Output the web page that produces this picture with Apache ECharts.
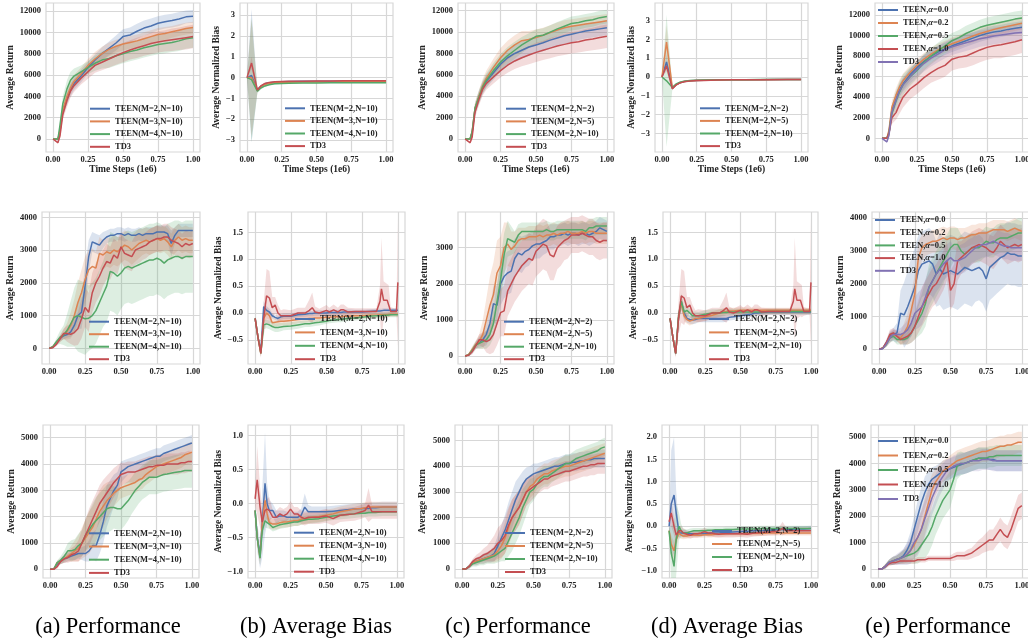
<!DOCTYPE html>
<html><head><meta charset="utf-8">
<script src="https://cdn.jsdelivr.net/npm/echarts@6/dist/echarts.min.js"></script>
<style>html,body{margin:0;padding:0;background:#fff;}#chart{width:1028px;height:640px;}</style>
</head><body><div id="chart"></div>
<script>
// ---------- x grids / ticks ----------
const xTicks = [0, 0.25, 0.5, 0.75, 1.0];
const xSmooth = [0, 0.02, 0.035, 0.05, 0.07, 0.1, 0.125, 0.15, 0.2, 0.25, 0.3, 0.35, 0.4, 0.45, 0.5, 0.55, 0.6, 0.65, 0.7, 0.75, 0.8, 0.85, 0.9, 0.95, 1.0];
const xBiasEarly = [0, 0.033, 0.075, 0.1, 0.13, 0.16, 0.2, 0.25, 0.3, 0.4, 0.5, 0.6, 0.7, 0.8, 0.9, 1.0];
const xNoisy = [0, 0.025, 0.05, 0.075, 0.1, 0.125, 0.15, 0.175, 0.2, 0.225, 0.25, 0.275, 0.3, 0.325, 0.35, 0.375, 0.4, 0.425, 0.45, 0.475, 0.5, 0.525, 0.55, 0.575, 0.6, 0.625, 0.65, 0.675, 0.7, 0.725, 0.75, 0.775, 0.8, 0.825, 0.85, 0.875, 0.9, 0.925, 0.95, 0.975, 1.0];
const xBiasRow2 = [0, 0.02, 0.04, 0.06, 0.08, 0.1, 0.12, 0.14, 0.16, 0.18, 0.2, 0.25, 0.3, 0.35, 0.38, 0.4, 0.42, 0.45, 0.5, 0.52, 0.55, 0.58, 0.6, 0.62, 0.65, 0.7, 0.75, 0.8, 0.85, 0.875, 0.885, 0.9, 0.925, 0.935, 0.95, 0.975, 0.99, 1.0];
const xBiasRow3 = [0, 0.015, 0.035, 0.05, 0.07, 0.085, 0.1, 0.125, 0.15, 0.175, 0.2, 0.225, 0.25, 0.275, 0.3, 0.325, 0.35, 0.375, 0.4, 0.45, 0.5, 0.55, 0.6, 0.65, 0.7, 0.75, 0.775, 0.8, 0.825, 0.85, 0.9, 0.95, 1.0];

// ---------- y ticks ----------
const yTicksPerf12k = [0, 2000, 4000, 6000, 8000, 10000, 12000];
const yTicksBias3 = [-3, -2, -1, 0, 1, 2, 3];
const yTicksPerf4k = [0, 1000, 2000, 3000, 4000];
const yTicksPerf3k = [0, 1000, 2000, 3000];
const yTicksBias15 = [-0.5, 0, 0.5, 1.0, 1.5];
const yTicksPerf5k = [0, 1000, 2000, 3000, 4000, 5000];
const yTicksBias10 = [-1.0, -0.5, 0, 0.5, 1.0];
const yTicksBias20 = [-1.0, -0.5, 0, 0.5, 1.0, 1.5, 2.0];

// ---------- labels ----------
const labelsM = ['TEEN(M=2,N=10)', 'TEEN(M=3,N=10)', 'TEEN(M=4,N=10)', 'TD3'];
const labelsN = ['TEEN(M=2,N=2)', 'TEEN(M=2,N=5)', 'TEEN(M=2,N=10)', 'TD3'];
const labelsA = ['TEEN,α=0.0', 'TEEN,α=0.2', 'TEEN,α=0.5', 'TEEN,α=1.0', 'TD3'];
const captions = ['(a) Performance', '(b) Average Bias', '(c) Performance', '(d) Average Bias', '(e) Performance'];

// ================= ROW 1 =================
const a1_m2 = [0, 0, -50, 700, 2600, 3800, 4600, 5200, 5900, 6700, 7400, 8000, 8500, 9000, 9600, 9750, 10100, 10400, 10600, 10850, 11000, 11100, 11250, 11450, 11500];
const a1_m3 = [0, 0, 0, 800, 2700, 4000, 4800, 5400, 6100, 6900, 7500, 8000, 8400, 8700, 8900, 9050, 9200, 9400, 9600, 9800, 9900, 10050, 10200, 10350, 10450];
const a1_m4 = [0, 0, 0, 1300, 3300, 4700, 5500, 5900, 6300, 6700, 7100, 7400, 7550, 7800, 8000, 8200, 8350, 8550, 8700, 8850, 8950, 9050, 9200, 9400, 9500];
const a1_td3 = [0, -200, -350, 300, 2300, 3600, 4500, 5000, 5700, 6300, 6900, 7200, 7500, 7800, 8100, 8350, 8550, 8750, 8950, 9100, 9200, 9300, 9400, 9500, 9600];
const a1_m2_sd = [0, 40, 80, 300, 500, 600, 600, 600, 600, 550, 550, 600, 650, 700, 700, 700, 700, 700, 700, 650, 650, 650, 650, 600, 600];
const a1_m3_sd = [0, 40, 80, 300, 500, 600, 600, 600, 600, 600, 650, 650, 650, 600, 600, 600, 600, 600, 600, 600, 600, 550, 550, 550, 550];
const a1_m4_sd = [0, 40, 80, 400, 700, 800, 800, 700, 600, 600, 700, 800, 900, 900, 900, 900, 900, 900, 900, 900, 900, 900, 950, 950, 950];
const a1_td3_sd = [0, 80, 120, 300, 500, 600, 600, 600, 600, 650, 700, 750, 800, 850, 900, 900, 950, 950, 1000, 1000, 1000, 1050, 1050, 1100, 1100];

const b1_m2 = [0, 0.1, -0.6, -0.42, -0.3, -0.25, -0.22, -0.2, -0.19, -0.18, -0.18, -0.17, -0.17, -0.17, -0.16, -0.16];
const b1_m3 = [0, 0.0, -0.62, -0.45, -0.33, -0.28, -0.25, -0.23, -0.22, -0.21, -0.21, -0.21, -0.2, -0.2, -0.2, -0.2];
const b1_m4 = [0, -0.1, -0.65, -0.5, -0.4, -0.34, -0.3, -0.28, -0.27, -0.26, -0.26, -0.25, -0.25, -0.25, -0.25, -0.25];
const b1_td3 = [0, 0.7, -0.6, -0.4, -0.28, -0.23, -0.2, -0.19, -0.18, -0.17, -0.16, -0.16, -0.15, -0.15, -0.15, -0.15];
const b1_m2_sd = [0, 3.2, 0.1, 0.06, 0.04, 0.03, 0.03, 0.03, 0.02, 0.02, 0.02, 0.02, 0.02, 0.02, 0.02, 0.02];
const b1_m3_sd = [0, 2.8, 0.1, 0.06, 0.04, 0.03, 0.03, 0.03, 0.02, 0.02, 0.02, 0.02, 0.02, 0.02, 0.02, 0.02];
const b1_m4_sd = [0, 3.0, 0.1, 0.06, 0.04, 0.03, 0.03, 0.03, 0.02, 0.02, 0.02, 0.02, 0.02, 0.02, 0.02, 0.02];
const b1_td3_sd = [0, 0.3, 0.1, 0.05, 0.04, 0.03, 0.03, 0.03, 0.02, 0.02, 0.02, 0.02, 0.02, 0.02, 0.02, 0.02];

const c1_n2 = [0, 0, 0, 600, 2800, 4000, 4800, 5400, 6200, 7000, 7600, 8000, 8300, 8600, 8800, 9000, 9250, 9450, 9650, 9800, 9950, 10100, 10200, 10300, 10400];
const c1_n5 = [0, 0, 0, 700, 2900, 4100, 5000, 5700, 6700, 7600, 8300, 8800, 9200, 9300, 9500, 9700, 9950, 10200, 10400, 10550, 10650, 10750, 10850, 10950, 11050];
const c1_n10 = [0, 0, 0, 700, 2900, 4000, 4900, 5500, 6400, 7200, 7800, 8300, 8800, 9200, 9600, 9700, 10000, 10300, 10550, 10800, 10900, 11050, 11150, 11350, 11450];
const c1_td3 = [0, -200, -350, 200, 2500, 3800, 4700, 5200, 5800, 6400, 6900, 7300, 7600, 7850, 8100, 8300, 8500, 8700, 8850, 9000, 9100, 9250, 9350, 9500, 9600];
const c1_n2_sd = [0, 40, 80, 300, 500, 600, 600, 600, 650, 700, 750, 800, 800, 800, 800, 800, 800, 750, 750, 750, 700, 700, 700, 700, 700];
const c1_n5_sd = [0, 40, 80, 300, 500, 600, 650, 700, 800, 900, 900, 900, 900, 800, 750, 700, 700, 700, 700, 650, 650, 650, 650, 650, 650];
const c1_n10_sd = [0, 40, 80, 300, 500, 600, 600, 650, 700, 750, 800, 800, 750, 700, 650, 650, 650, 650, 650, 650, 650, 650, 650, 650, 650];
const c1_td3_sd = [0, 80, 120, 300, 500, 600, 600, 600, 600, 650, 700, 750, 800, 850, 900, 900, 950, 950, 1000, 1000, 1000, 1050, 1050, 1100, 1100];

const d1_n2 = [0, 0.8, -0.6, -0.42, -0.3, -0.24, -0.2, -0.18, -0.17, -0.16, -0.15, -0.14, -0.14, -0.13, -0.13, -0.13];
const d1_n5 = [0, 1.85, -0.6, -0.42, -0.3, -0.24, -0.2, -0.18, -0.17, -0.16, -0.15, -0.14, -0.14, -0.13, -0.13, -0.13];
const d1_n10 = [0, -0.2, -0.55, -0.38, -0.27, -0.22, -0.19, -0.17, -0.16, -0.15, -0.14, -0.14, -0.13, -0.13, -0.13, -0.13];
const d1_td3 = [0, 0.6, -0.62, -0.43, -0.31, -0.25, -0.21, -0.19, -0.18, -0.16, -0.15, -0.15, -0.14, -0.14, -0.13, -0.13];
const d1_n2_sd = [0, 0.4, 0.08, 0.05, 0.04, 0.03, 0.03, 0.03, 0.02, 0.02, 0.02, 0.02, 0.02, 0.02, 0.02, 0.02];
const d1_n5_sd = [0, 0.9, 0.08, 0.05, 0.04, 0.03, 0.03, 0.03, 0.02, 0.02, 0.02, 0.02, 0.02, 0.02, 0.02, 0.02];
const d1_n10_sd = [0, 3.5, 0.1, 0.06, 0.04, 0.03, 0.03, 0.03, 0.02, 0.02, 0.02, 0.02, 0.02, 0.02, 0.02, 0.02];
const d1_td3_sd = [0, 0.3, 0.08, 0.05, 0.04, 0.03, 0.03, 0.03, 0.02, 0.02, 0.02, 0.02, 0.02, 0.02, 0.02, 0.02];

const e1_a0 = [0, 0, 0, 600, 2700, 3800, 4700, 5300, 6200, 6900, 7500, 8000, 8400, 8700, 9000, 9250, 9500, 9750, 10000, 10200, 10350, 10450, 10600, 10700, 10800];
const e1_a2 = [0, 0, 0, 800, 3000, 4200, 5000, 5600, 6400, 7100, 7700, 8200, 8600, 8900, 9200, 9450, 9700, 9950, 10200, 10400, 10600, 10750, 10900, 11050, 11200];
const e1_a5 = [0, 0, 0, 500, 2400, 3600, 4500, 5200, 6000, 6600, 7400, 8000, 8500, 9000, 9500, 9800, 10200, 10500, 10800, 11000, 11150, 11300, 11450, 11600, 11700];
const e1_a10 = [0, 0, 0, 500, 2000, 2500, 3300, 4000, 4800, 5300, 5900, 6400, 6800, 7100, 7700, 7900, 8000, 8300, 8600, 8850, 9000, 9100, 9250, 9400, 9600];
const e1_td3 = [0, -200, -350, 300, 2500, 3700, 4600, 5200, 6000, 6700, 7300, 7800, 8200, 8600, 8900, 9100, 9300, 9500, 9700, 9800, 9950, 10050, 10150, 10250, 10300];
const e1_a0_sd = [0, 40, 80, 300, 500, 600, 600, 600, 600, 600, 600, 600, 600, 600, 600, 600, 600, 600, 600, 600, 600, 600, 600, 600, 600];
const e1_a2_sd = [0, 40, 80, 300, 600, 700, 700, 700, 650, 600, 600, 600, 600, 600, 600, 600, 600, 600, 600, 600, 600, 600, 600, 600, 600];
const e1_a5_sd = [0, 40, 80, 400, 800, 1000, 1000, 1000, 900, 800, 800, 800, 800, 800, 750, 750, 750, 750, 750, 750, 750, 750, 750, 750, 750];
const e1_a10_sd = [0, 40, 80, 300, 600, 700, 900, 1000, 1000, 1000, 1000, 1000, 1100, 1100, 1100, 1100, 1100, 1200, 1200, 1200, 1200, 1300, 1300, 1300, 1300];
const e1_td3_sd = [0, 80, 120, 300, 500, 600, 600, 650, 700, 750, 800, 800, 800, 800, 800, 800, 800, 800, 800, 800, 800, 800, 800, 800, 800];

// ================= ROW 2 =================
const a2_m2 = [0, 30, 150, 300, 380, 420, 500, 700, 1000, 1100, 1900, 2800, 3250, 3200, 3150, 3300, 3400, 3450, 3450, 3500, 3500, 3450, 3500, 3450, 3450, 3500, 3450, 3500, 3500, 3500, 3550, 3550, 3550, 3500, 3200, 3450, 3600, 3600, 3600, 3600, 3600];
const a2_m3 = [0, 50, 180, 300, 420, 520, 700, 1000, 1400, 1700, 2100, 2400, 2500, 2450, 2900, 2850, 2950, 2900, 3000, 2950, 3050, 3150, 3100, 3000, 3100, 3200, 3250, 3300, 3250, 3300, 3350, 3300, 3350, 3250, 3100, 3300, 3400, 3300, 3350, 3300, 3300];
const a2_m4 = [0, 50, 200, 330, 400, 550, 750, 950, 1000, 950, 900, 920, 1000, 1150, 1400, 1650, 1900, 2350, 2300, 2200, 2300, 2450, 2500, 2450, 2500, 2550, 2600, 2650, 2700, 2700, 2750, 2700, 2600, 2700, 2750, 2800, 2800, 2750, 2800, 2800, 2800];
const a2_td3 = [0, 20, 120, 280, 450, 450, 430, 480, 600, 900, 1250, 1100, 1700, 2000, 2200, 2450, 2650, 2600, 2850, 2750, 3100, 2900, 2850, 2800, 3000, 3050, 3100, 3150, 3250, 3300, 3350, 3350, 3400, 3400, 3300, 3250, 3200, 3100, 3200, 3150, 3200];
const a2_m2_sd = [0, 20, 50, 80, 100, 100, 150, 250, 400, 500, 600, 500, 300, 300, 300, 250, 200, 200, 200, 200, 200, 200, 200, 200, 200, 200, 200, 200, 200, 200, 200, 200, 200, 250, 400, 250, 200, 200, 200, 200, 200];
const a2_m3_sd = [0, 30, 60, 100, 150, 250, 400, 500, 600, 700, 700, 600, 550, 500, 500, 450, 450, 450, 450, 450, 450, 450, 450, 450, 450, 450, 400, 400, 400, 400, 400, 400, 400, 400, 400, 400, 400, 400, 400, 400, 400];
const a2_m4_sd = [0, 30, 100, 200, 300, 500, 700, 900, 1100, 1100, 1100, 1000, 1000, 1000, 1000, 1000, 1100, 1200, 1200, 1200, 1100, 1100, 1100, 1100, 1100, 1100, 1100, 1100, 1100, 1100, 1100, 1100, 1100, 1100, 1100, 1100, 1100, 1100, 1100, 1100, 1100];
const a2_td3_sd = [0, 20, 60, 100, 150, 250, 300, 400, 500, 600, 600, 600, 600, 600, 600, 550, 550, 500, 500, 500, 450, 450, 450, 450, 450, 450, 400, 400, 400, 400, 400, 400, 400, 400, 400, 400, 400, 400, 400, 400, 400];

const b2_m2 = [-0.1, -0.45, -0.7, 0.12, 0.05, 0.02, -0.05, -0.08, -0.1, -0.07, -0.06, -0.06, -0.03, -0.02, -0.01, -0.01, 0.0, 0.0, 0.0, 0.01, 0.01, 0.01, 0.01, 0.02, 0.02, 0.02, 0.02, 0.03, 0.04, 0.04, 0.04, 0.05, 0.05, 0.05, 0.05, 0.05, 0.05, 0.05];
const b2_m3 = [-0.1, -0.45, -0.75, -0.1, 0.0, -0.05, -0.18, -0.17, -0.16, -0.15, -0.15, -0.14, -0.12, -0.11, -0.1, -0.1, -0.09, -0.09, -0.08, -0.08, -0.07, -0.07, -0.07, -0.06, -0.06, -0.05, -0.05, -0.04, -0.04, -0.03, -0.03, -0.03, -0.03, -0.02, -0.02, -0.02, -0.02, -0.02];
const b2_m4 = [-0.1, -0.45, -0.75, -0.22, -0.2, -0.22, -0.25, -0.27, -0.27, -0.26, -0.25, -0.24, -0.22, -0.2, -0.2, -0.19, -0.18, -0.17, -0.15, -0.14, -0.13, -0.12, -0.12, -0.11, -0.1, -0.09, -0.08, -0.06, -0.05, -0.05, -0.04, -0.04, -0.04, -0.03, -0.03, -0.03, -0.03, -0.03];
const td3BiasRow2 = [-0.1, -0.45, -0.75, -0.1, 0.32, 0.28, 0.1, 0.15, 0.0, -0.05, -0.05, -0.05, 0.0, 0.0, 0.05, 0.1, 0.02, 0.0, 0.05, 0.02, 0.06, 0.02, 0.06, 0.06, 0.02, 0.03, 0.03, 0.03, 0.03, 0.22, 0.45, 0.24, 0.24, 0.22, 0.03, 0.03, 0.03, 0.57];
const b2_m2_sd = [0.03, 0.05, 0.05, 0.1, 0.08, 0.06, 0.05, 0.05, 0.05, 0.05, 0.05, 0.05, 0.05, 0.05, 0.05, 0.05, 0.05, 0.05, 0.05, 0.05, 0.05, 0.05, 0.05, 0.05, 0.05, 0.04, 0.04, 0.04, 0.04, 0.04, 0.04, 0.04, 0.04, 0.04, 0.04, 0.04, 0.04, 0.04];
const b2_m3_sd = [0.03, 0.05, 0.05, 0.1, 0.1, 0.08, 0.08, 0.08, 0.08, 0.08, 0.08, 0.08, 0.07, 0.07, 0.07, 0.07, 0.07, 0.07, 0.06, 0.06, 0.06, 0.06, 0.06, 0.06, 0.06, 0.05, 0.05, 0.05, 0.05, 0.05, 0.05, 0.05, 0.05, 0.05, 0.05, 0.05, 0.05, 0.05];
const b2_m4_sd = [0.03, 0.05, 0.05, 0.08, 0.08, 0.08, 0.08, 0.08, 0.08, 0.08, 0.07, 0.07, 0.07, 0.06, 0.06, 0.06, 0.06, 0.06, 0.05, 0.05, 0.05, 0.05, 0.05, 0.05, 0.05, 0.05, 0.05, 0.05, 0.05, 0.05, 0.05, 0.05, 0.05, 0.05, 0.05, 0.05, 0.05, 0.05];
const td3BiasRow2_sd = [0.03, 0.1, 0.08, 0.3, 0.5, 0.5, 0.2, 0.15, 0.15, 0.1, 0.12, 0.1, 0.1, 0.1, 0.2, 0.28, 0.1, 0.08, 0.1, 0.08, 0.1, 0.08, 0.1, 0.1, 0.08, 0.06, 0.06, 0.06, 0.06, 0.3, 0.95, 0.35, 0.3, 0.3, 0.08, 0.06, 0.06, 1.2];

const c2_n2 = [0, 30, 150, 300, 380, 450, 600, 900, 1450, 1400, 2000, 2200, 2300, 2350, 2700, 2850, 2800, 2900, 2950, 3050, 3100, 3100, 3150, 3200, 3300, 3300, 3350, 3350, 3400, 3350, 3400, 3400, 3350, 3400, 3400, 3350, 3400, 3450, 3550, 3500, 3450];
const c2_n5 = [0, 40, 180, 320, 400, 600, 1000, 1400, 1700, 2300, 2500, 3000, 3100, 2950, 3050, 3200, 3250, 3250, 3300, 3300, 3300, 3350, 3300, 3350, 3350, 3400, 3350, 3400, 3400, 3450, 3400, 3400, 3400, 3450, 3400, 3450, 3450, 3400, 3400, 3400, 3400];
const c2_n10 = [0, 30, 150, 300, 350, 400, 450, 600, 900, 1500, 2100, 2800, 3250, 3200, 3150, 3350, 3450, 3450, 3450, 3450, 3450, 3450, 3450, 3500, 3450, 3450, 3500, 3500, 3500, 3500, 3500, 3500, 3500, 3500, 3450, 3550, 3550, 3600, 3600, 3600, 3600];
const c2_td3 = [0, 20, 120, 280, 450, 450, 400, 450, 600, 900, 1200, 1250, 1800, 2000, 2200, 2350, 2500, 2600, 2700, 2650, 2900, 3000, 3100, 3050, 2800, 2750, 3000, 3100, 3200, 3250, 3350, 3350, 3350, 3400, 3350, 3300, 3300, 3200, 3150, 3200, 3200];
const c2_n2_sd = [0, 30, 80, 100, 150, 200, 300, 400, 500, 550, 600, 600, 600, 600, 550, 500, 500, 450, 450, 400, 400, 400, 350, 350, 350, 350, 300, 300, 300, 300, 300, 300, 300, 300, 300, 300, 300, 300, 300, 300, 300];
const c2_n5_sd = [0, 30, 80, 100, 200, 400, 600, 800, 900, 900, 800, 700, 600, 500, 400, 350, 300, 300, 300, 300, 300, 300, 300, 300, 300, 300, 300, 300, 300, 300, 300, 300, 300, 300, 300, 300, 300, 300, 300, 300, 300];
const c2_n10_sd = [0, 30, 80, 100, 150, 200, 250, 300, 400, 500, 600, 600, 500, 400, 300, 300, 250, 250, 250, 250, 250, 250, 250, 250, 250, 250, 250, 250, 250, 250, 250, 250, 250, 250, 250, 250, 250, 250, 250, 250, 250];
const c2_td3_sd = [0, 30, 80, 100, 150, 200, 300, 400, 500, 600, 650, 700, 700, 700, 700, 700, 700, 700, 700, 700, 700, 700, 700, 700, 700, 650, 600, 600, 550, 550, 500, 500, 500, 500, 500, 500, 500, 500, 500, 500, 500];

const d2_n2 = [-0.1, -0.45, -0.75, -0.1, 0.2, 0.0, -0.1, -0.12, -0.13, -0.12, -0.1, -0.1, -0.1, -0.1, -0.1, -0.1, -0.08, -0.07, -0.05, -0.04, -0.03, -0.02, 0.0, 0.0, 0.01, 0.02, 0.02, 0.02, 0.02, 0.02, 0.02, 0.02, 0.02, 0.02, 0.02, 0.02, 0.02, 0.02];
const d2_n5 = [-0.1, -0.45, -0.75, -0.1, 0.2, -0.05, -0.12, -0.15, -0.13, -0.1, -0.1, -0.07, -0.04, 0.0, 0.02, 0.03, 0.04, 0.04, 0.05, 0.05, 0.05, 0.05, 0.05, 0.05, 0.05, 0.05, 0.05, 0.05, 0.05, 0.05, 0.05, 0.05, 0.05, 0.05, 0.05, 0.05, 0.05, 0.05];
const d2_n10 = [-0.1, -0.45, -0.75, -0.05, 0.22, 0.02, 0.05, 0.0, -0.05, -0.05, -0.05, -0.02, 0.0, 0.0, 0.01, 0.01, 0.02, 0.02, 0.02, 0.02, 0.02, 0.02, 0.02, 0.02, 0.02, 0.03, 0.03, 0.03, 0.03, 0.03, 0.03, 0.03, 0.03, 0.03, 0.03, 0.03, 0.03, 0.03];
const d2_n2_sd = [0.03, 0.05, 0.05, 0.1, 0.12, 0.1, 0.08, 0.08, 0.08, 0.08, 0.07, 0.07, 0.07, 0.07, 0.07, 0.06, 0.06, 0.06, 0.06, 0.06, 0.05, 0.05, 0.05, 0.05, 0.05, 0.05, 0.05, 0.05, 0.05, 0.05, 0.05, 0.05, 0.05, 0.05, 0.05, 0.05, 0.05, 0.05];
const d2_n5_sd = [0.03, 0.05, 0.05, 0.1, 0.12, 0.1, 0.08, 0.08, 0.08, 0.08, 0.07, 0.07, 0.07, 0.07, 0.07, 0.06, 0.06, 0.06, 0.06, 0.06, 0.05, 0.05, 0.05, 0.05, 0.05, 0.05, 0.05, 0.05, 0.05, 0.05, 0.05, 0.05, 0.05, 0.05, 0.05, 0.05, 0.05, 0.05];
const d2_n10_sd = [0.03, 0.05, 0.05, 0.1, 0.15, 0.1, 0.1, 0.08, 0.08, 0.08, 0.07, 0.07, 0.07, 0.07, 0.07, 0.06, 0.06, 0.06, 0.06, 0.06, 0.05, 0.05, 0.05, 0.05, 0.05, 0.05, 0.05, 0.05, 0.05, 0.05, 0.05, 0.05, 0.05, 0.05, 0.05, 0.05, 0.05, 0.05];

const e2_a0 = [0, 30, 200, 400, 450, 500, 1100, 1050, 1300, 1600, 1900, 2400, 2600, 2650, 2700, 2600, 2300, 2450, 2300, 2350, 2400, 2350, 2300, 2400, 2500, 2450, 2400, 2450, 2500, 2400, 2150, 2500, 2600, 2700, 2800, 2850, 2950, 2900, 2900, 2850, 2850];
const e2_a2 = [0, 40, 150, 350, 450, 400, 350, 500, 700, 1200, 1700, 2800, 3100, 3200, 3250, 3300, 3300, 3350, 3400, 3350, 3400, 3400, 3350, 3400, 3400, 3450, 3500, 3500, 3550, 3550, 3550, 3600, 3650, 3650, 3650, 3650, 3600, 3650, 3700, 3650, 3600];
const e2_a5 = [0, 30, 150, 350, 400, 300, 300, 300, 350, 500, 700, 900, 1100, 1400, 1900, 2100, 2300, 2500, 2700, 2900, 3100, 3200, 3200, 3000, 2900, 3000, 3100, 3100, 3100, 3200, 3300, 3250, 3250, 3350, 3400, 3400, 3400, 3450, 3500, 3550, 3550];
const e2_a10 = [0, 30, 200, 450, 500, 400, 300, 350, 400, 500, 700, 1000, 1300, 1500, 1700, 1900, 2000, 2200, 2400, 2700, 1800, 2000, 2700, 2800, 2900, 3000, 3100, 3150, 3200, 3150, 3100, 3000, 2950, 3100, 3300, 3200, 3100, 3150, 3200, 3150, 3200];
const e2_td3 = [0, 20, 150, 350, 450, 450, 450, 500, 600, 800, 1100, 1200, 1300, 1600, 1900, 2100, 2300, 2450, 2600, 2700, 2800, 2700, 2700, 2750, 2800, 2900, 3000, 3100, 3150, 3200, 3200, 3250, 3300, 3250, 3200, 3150, 3150, 3100, 3100, 3100, 3100];
const e2_a0_sd = [0, 30, 80, 150, 200, 300, 700, 1000, 1100, 1200, 1200, 1100, 1000, 1000, 1000, 1000, 1000, 1100, 1100, 1100, 1100, 1100, 1100, 1100, 1100, 1100, 1100, 1000, 1000, 1000, 1000, 1000, 1000, 1000, 1000, 950, 950, 950, 950, 950, 950];
const e2_a2_sd = [0, 30, 80, 150, 150, 150, 200, 300, 400, 500, 600, 500, 400, 350, 350, 350, 350, 350, 350, 350, 350, 350, 350, 300, 300, 300, 300, 300, 300, 300, 300, 300, 300, 300, 300, 300, 300, 300, 300, 300, 300];
const e2_a5_sd = [0, 30, 80, 150, 150, 150, 150, 150, 200, 300, 400, 500, 600, 700, 700, 700, 700, 700, 700, 600, 600, 500, 500, 500, 500, 500, 450, 450, 450, 450, 450, 450, 450, 450, 450, 450, 450, 450, 450, 450, 450];
const e2_a10_sd = [0, 30, 80, 150, 150, 150, 150, 200, 250, 300, 400, 500, 600, 600, 600, 600, 600, 600, 600, 600, 600, 600, 600, 500, 500, 500, 500, 500, 500, 500, 500, 500, 500, 500, 500, 500, 500, 500, 500, 500, 500];
const e2_td3_sd = [0, 30, 80, 150, 150, 150, 200, 250, 300, 400, 500, 550, 550, 550, 550, 550, 550, 550, 500, 500, 500, 450, 450, 450, 450, 450, 400, 400, 400, 400, 400, 400, 400, 400, 400, 400, 400, 400, 400, 400, 400];

// ================= ROW 3 =================
const a3_m2 = [0, 0, 200, 300, 400, 450, 500, 550, 600, 600, 600, 700, 900, 900, 1300, 1800, 2400, 2700, 3000, 3200, 3700, 3800, 3900, 3950, 4000, 4050, 4100, 4150, 4200, 4250, 4300, 4300, 4400, 4450, 4500, 4550, 4600, 4650, 4700, 4750, 4800];
const a3_m3 = [0, 0, 250, 300, 400, 500, 600, 700, 800, 1000, 1200, 1400, 1600, 1900, 2200, 2400, 2600, 2750, 2900, 3000, 3100, 3150, 3200, 3250, 3300, 3400, 3450, 3600, 3700, 3800, 3900, 3950, 4000, 4050, 4100, 4150, 4200, 4250, 4350, 4400, 4450];
const a3_m4 = [0, 0, 250, 350, 500, 700, 700, 750, 900, 1000, 1300, 1500, 1700, 1850, 2000, 2150, 2300, 2350, 2350, 2300, 2300, 2450, 2600, 2800, 3000, 3150, 3300, 3400, 3500, 3500, 3500, 3550, 3600, 3620, 3650, 3680, 3700, 3720, 3750, 3750, 3750];
const a3_td3 = [0, 0, 100, 300, 400, 450, 550, 600, 700, 1000, 1300, 1600, 1900, 2200, 2500, 2700, 2900, 3100, 3300, 3450, 3600, 3650, 3700, 3700, 3700, 3750, 3800, 3850, 3900, 3900, 3950, 3950, 3950, 4000, 4000, 4000, 4000, 4050, 4050, 4100, 4100];
const a3_m2_sd = [0, 30, 80, 100, 150, 150, 150, 200, 200, 250, 300, 400, 500, 600, 700, 800, 800, 700, 600, 500, 400, 350, 300, 300, 300, 300, 300, 300, 300, 300, 300, 300, 300, 300, 300, 300, 300, 300, 300, 300, 300];
const a3_m3_sd = [0, 30, 80, 100, 150, 200, 300, 400, 500, 600, 700, 800, 800, 800, 800, 800, 700, 600, 500, 450, 400, 400, 400, 400, 400, 400, 400, 400, 400, 400, 400, 400, 400, 400, 400, 400, 400, 400, 400, 400, 400];
const a3_m4_sd = [0, 30, 80, 150, 200, 300, 400, 400, 450, 500, 600, 700, 800, 900, 900, 900, 900, 900, 800, 800, 800, 800, 750, 700, 700, 650, 650, 650, 650, 650, 650, 650, 650, 650, 650, 650, 650, 650, 650, 650, 650];
const a3_td3_sd = [0, 30, 80, 100, 150, 200, 250, 300, 400, 500, 600, 700, 700, 700, 700, 700, 650, 600, 550, 500, 450, 400, 400, 400, 400, 400, 400, 400, 400, 400, 400, 400, 400, 400, 400, 400, 400, 400, 400, 400, 400];

const b3_m2 = [-0.1, -0.5, -0.75, -0.3, 0.3, 0.0, -0.1, -0.1, -0.2, -0.18, -0.18, -0.2, -0.2, -0.2, -0.2, -0.17, -0.05, -0.12, -0.12, -0.12, -0.12, -0.11, -0.1, -0.09, -0.08, -0.07, -0.07, -0.07, -0.06, -0.06, -0.05, -0.05, -0.05];
const b3_m3 = [-0.1, -0.5, -0.8, -0.3, 0.05, -0.15, -0.28, -0.3, -0.3, -0.28, -0.27, -0.27, -0.26, -0.25, -0.25, -0.23, -0.22, -0.21, -0.2, -0.19, -0.17, -0.15, -0.12, -0.1, -0.08, -0.07, -0.06, -0.05, -0.05, -0.05, -0.05, -0.05, -0.05];
const b3_m4 = [-0.1, -0.5, -0.8, -0.4, -0.25, -0.28, -0.3, -0.35, -0.33, -0.31, -0.3, -0.29, -0.28, -0.27, -0.27, -0.25, -0.24, -0.23, -0.23, -0.22, -0.2, -0.18, -0.17, -0.16, -0.15, -0.14, -0.14, -0.13, -0.13, -0.13, -0.12, -0.12, -0.12];
const b3_td3 = [0.07, 0.35, -0.05, -0.27, -0.1, -0.08, -0.1, -0.2, -0.2, -0.15, -0.18, -0.15, -0.08, -0.15, -0.15, -0.2, -0.22, -0.2, -0.2, -0.2, -0.18, -0.22, -0.17, -0.16, -0.15, -0.12, -0.1, -0.02, -0.12, -0.12, -0.12, -0.12, -0.12];
const b3_m2_sd = [0.05, 0.2, 0.2, 0.5, 0.75, 0.3, 0.15, 0.1, 0.1, 0.08, 0.08, 0.08, 0.08, 0.08, 0.08, 0.1, 0.2, 0.1, 0.08, 0.08, 0.08, 0.08, 0.08, 0.08, 0.08, 0.08, 0.08, 0.08, 0.08, 0.08, 0.08, 0.08, 0.08];
const b3_m3_sd = [0.05, 0.1, 0.1, 0.15, 0.15, 0.1, 0.08, 0.08, 0.08, 0.08, 0.08, 0.08, 0.08, 0.08, 0.08, 0.08, 0.08, 0.08, 0.08, 0.08, 0.08, 0.08, 0.08, 0.08, 0.08, 0.08, 0.08, 0.08, 0.08, 0.08, 0.08, 0.08, 0.08];
const b3_m4_sd = [0.05, 0.1, 0.1, 0.12, 0.1, 0.08, 0.07, 0.06, 0.06, 0.06, 0.06, 0.06, 0.06, 0.06, 0.06, 0.06, 0.06, 0.06, 0.06, 0.06, 0.06, 0.06, 0.06, 0.06, 0.06, 0.06, 0.06, 0.06, 0.06, 0.06, 0.06, 0.06, 0.06];
const b3_td3_sd = [0.1, 0.5, 0.3, 0.2, 0.15, 0.15, 0.2, 0.1, 0.1, 0.1, 0.1, 0.1, 0.12, 0.1, 0.1, 0.1, 0.1, 0.1, 0.1, 0.1, 0.1, 0.1, 0.1, 0.1, 0.1, 0.1, 0.1, 0.25, 0.1, 0.1, 0.1, 0.1, 0.1];

const c3_n2 = [0, 0, 100, 250, 300, 350, 400, 450, 500, 600, 900, 1200, 1500, 1900, 2300, 2700, 3000, 3300, 3500, 3600, 3700, 3750, 3800, 3850, 3900, 3950, 4000, 4000, 4050, 4100, 4100, 4150, 4150, 4200, 4200, 4250, 4250, 4300, 4300, 4300, 4300];
const c3_n5 = [0, 0, 100, 250, 300, 350, 400, 450, 500, 550, 700, 900, 1200, 1600, 2000, 2200, 2400, 2700, 3000, 3200, 3300, 3500, 3600, 3700, 3700, 3800, 3850, 3900, 3950, 4000, 4000, 4050, 4100, 4150, 4200, 4250, 4300, 4350, 4400, 4450, 4500];
const c3_n10 = [0, 0, 100, 200, 250, 300, 350, 400, 450, 500, 600, 700, 800, 1100, 1400, 1700, 2000, 2400, 2700, 3000, 3100, 3300, 3500, 3600, 3600, 3700, 3800, 3900, 4000, 4100, 4100, 4200, 4300, 4350, 4400, 4450, 4500, 4550, 4600, 4700, 4750];
const c3_td3 = [0, 0, 100, 300, 400, 450, 550, 600, 700, 800, 1000, 1100, 1300, 1700, 2000, 2200, 2400, 2700, 3000, 3100, 3200, 3300, 3400, 3500, 3500, 3600, 3650, 3700, 3750, 3800, 3800, 3850, 3900, 3950, 4000, 4000, 4050, 4050, 4100, 4100, 4100];
const c3_n2_sd = [0, 30, 80, 100, 150, 150, 200, 200, 250, 300, 400, 500, 600, 700, 700, 700, 600, 500, 450, 400, 400, 350, 350, 350, 350, 350, 350, 350, 350, 350, 350, 350, 350, 350, 350, 350, 350, 350, 350, 350, 350];
const c3_n5_sd = [0, 30, 80, 100, 150, 150, 200, 200, 250, 300, 400, 500, 600, 700, 700, 700, 700, 600, 500, 450, 400, 400, 400, 400, 400, 400, 400, 400, 400, 400, 400, 400, 400, 400, 400, 400, 400, 400, 400, 400, 400];
const c3_n10_sd = [0, 30, 80, 100, 150, 150, 200, 200, 250, 300, 350, 400, 500, 600, 700, 700, 700, 700, 600, 500, 450, 400, 400, 400, 400, 350, 350, 350, 350, 350, 350, 350, 350, 350, 350, 350, 350, 350, 350, 350, 350];
const c3_td3_sd = [0, 30, 80, 100, 150, 200, 250, 300, 400, 500, 600, 650, 700, 700, 700, 700, 650, 600, 550, 500, 450, 400, 400, 400, 400, 400, 400, 400, 400, 400, 400, 400, 400, 400, 400, 400, 400, 400, 400, 400, 400];

const d3_n2 = [0.0, 0.5, 0.7, 0.3, -0.15, -0.15, -0.15, -0.15, -0.17, -0.17, -0.17, -0.17, -0.16, -0.16, -0.15, -0.15, -0.15, -0.14, -0.14, -0.13, -0.12, -0.11, -0.1, -0.1, -0.09, -0.08, -0.08, -0.07, -0.07, -0.07, -0.06, -0.06, -0.05];
const d3_n5 = [-0.1, -0.4, -0.55, -0.3, -0.15, -0.2, -0.22, -0.22, -0.2, -0.2, -0.2, -0.2, -0.19, -0.19, -0.19, -0.18, -0.18, -0.18, -0.17, -0.17, -0.17, -0.16, -0.16, -0.16, -0.15, -0.15, -0.15, -0.15, -0.15, -0.15, -0.15, -0.15, -0.15];
const d3_n10 = [-0.1, -0.6, -0.9, -0.3, 0.0, -0.1, -0.15, -0.15, -0.12, -0.1, -0.1, -0.1, -0.1, -0.09, -0.09, -0.08, -0.08, -0.08, -0.07, -0.07, -0.06, -0.06, -0.06, -0.05, -0.05, -0.05, -0.05, -0.05, -0.05, -0.05, -0.05, -0.05, -0.05];
const d3_td3 = [0.1, 0.3, 0.0, -0.2, -0.1, -0.1, -0.15, -0.18, -0.2, -0.17, -0.17, -0.15, -0.12, -0.15, -0.15, -0.17, -0.18, -0.17, -0.17, -0.17, -0.16, -0.18, -0.15, -0.14, -0.13, -0.12, -0.1, -0.05, -0.1, -0.1, -0.1, -0.1, -0.1];
const d3_n2_sd = [0.05, 1.2, 1.3, 0.5, 0.1, 0.08, 0.07, 0.06, 0.06, 0.06, 0.06, 0.06, 0.06, 0.06, 0.06, 0.06, 0.06, 0.06, 0.06, 0.06, 0.06, 0.06, 0.06, 0.06, 0.06, 0.06, 0.06, 0.06, 0.06, 0.06, 0.06, 0.06, 0.06];
const d3_n5_sd = [0.05, 0.2, 0.2, 0.15, 0.1, 0.08, 0.07, 0.06, 0.06, 0.06, 0.06, 0.06, 0.06, 0.06, 0.06, 0.06, 0.06, 0.06, 0.06, 0.06, 0.06, 0.06, 0.06, 0.06, 0.06, 0.06, 0.06, 0.06, 0.06, 0.06, 0.06, 0.06, 0.06];
const d3_n10_sd = [0.05, 0.6, 1.0, 0.8, 0.3, 0.15, 0.1, 0.08, 0.07, 0.06, 0.06, 0.06, 0.06, 0.06, 0.06, 0.06, 0.06, 0.06, 0.06, 0.06, 0.06, 0.06, 0.06, 0.06, 0.06, 0.06, 0.06, 0.06, 0.06, 0.06, 0.06, 0.06, 0.06];
const d3_td3_sd = [0.1, 0.3, 0.2, 0.15, 0.1, 0.1, 0.1, 0.08, 0.08, 0.08, 0.08, 0.08, 0.08, 0.08, 0.08, 0.08, 0.08, 0.08, 0.08, 0.08, 0.08, 0.08, 0.08, 0.08, 0.08, 0.08, 0.08, 0.15, 0.08, 0.08, 0.08, 0.08, 0.08];

const e3_a0 = [0, 0, 100, 250, 300, 350, 400, 500, 700, 1000, 1500, 2000, 2500, 2900, 3200, 3400, 3500, 3600, 3700, 3750, 3800, 3850, 3900, 3950, 4000, 4050, 4100, 4150, 4200, 4200, 4200, 4150, 4150, 4100, 4100, 4100, 4100, 4100, 4100, 4100, 4100];
const e3_a2 = [0, 0, 100, 250, 300, 350, 400, 450, 550, 700, 900, 1200, 1500, 2000, 2500, 3000, 3300, 3500, 3700, 3800, 3900, 4000, 4100, 4150, 4200, 4250, 4300, 4350, 4400, 4450, 4450, 4500, 4550, 4600, 4650, 4650, 4700, 4700, 4750, 4800, 4800];
const e3_a5 = [0, 0, 100, 250, 300, 350, 400, 450, 500, 550, 600, 700, 900, 1100, 1300, 1600, 2000, 2300, 2600, 2800, 3000, 3400, 3900, 4000, 4000, 4050, 4100, 4150, 4200, 4200, 4200, 4250, 4250, 4300, 4300, 4300, 4300, 4300, 4300, 4300, 4300];
const e3_a10 = [0, 0, 100, 200, 250, 250, 300, 300, 300, 300, 300, 350, 350, 350, 400, 400, 400, 400, 400, 400, 400, 450, 500, 500, 500, 550, 600, 700, 800, 900, 1000, 1100, 1100, 1300, 1500, 1300, 1200, 1500, 1900, 2300, 2400];
const e3_td3 = [0, 0, 100, 250, 300, 350, 400, 450, 550, 700, 1000, 1200, 1500, 1900, 2300, 2700, 3000, 3300, 3500, 3700, 3800, 3900, 3950, 4000, 4000, 4050, 4100, 4100, 4100, 4150, 4150, 4150, 4100, 4100, 4100, 4100, 4100, 4100, 4100, 4100, 4100];
const e3_a0_sd = [0, 30, 80, 100, 150, 150, 200, 250, 300, 400, 500, 600, 600, 600, 500, 450, 400, 400, 400, 400, 400, 400, 400, 400, 400, 400, 400, 400, 400, 400, 400, 400, 400, 400, 400, 400, 400, 400, 400, 400, 400];
const e3_a2_sd = [0, 30, 80, 100, 150, 150, 200, 250, 300, 400, 500, 600, 700, 700, 700, 600, 500, 450, 400, 400, 400, 400, 400, 400, 400, 400, 400, 400, 400, 400, 400, 400, 400, 400, 400, 400, 400, 400, 400, 400, 400];
const e3_a5_sd = [0, 30, 80, 100, 150, 150, 200, 250, 300, 350, 400, 500, 600, 700, 700, 700, 700, 700, 700, 700, 700, 600, 500, 450, 400, 400, 400, 400, 400, 400, 400, 400, 400, 400, 400, 400, 400, 400, 400, 400, 400];
const e3_a10_sd = [0, 30, 80, 100, 100, 100, 100, 100, 100, 100, 100, 100, 100, 100, 100, 100, 100, 100, 100, 100, 100, 150, 150, 150, 150, 200, 200, 250, 300, 300, 350, 400, 400, 400, 450, 450, 450, 500, 500, 500, 500];
const e3_td3_sd = [0, 30, 80, 100, 150, 200, 250, 300, 400, 500, 600, 700, 700, 700, 700, 650, 600, 550, 500, 450, 400, 400, 400, 400, 400, 400, 400, 400, 400, 400, 400, 400, 400, 400, 400, 400, 400, 400, 400, 400, 400];

// ---------- styling ----------
const FF = "'Liberation Serif', 'Times New Roman', 'DejaVu Serif', serif";
const TXT = '#222222';
const GRIDC = '#d7d7d7';
const C4 = ['#4c72b0', '#dd8452', '#55a868', '#c44e52'];
const C5 = ['#4c72b0', '#dd8452', '#55a868', '#c44e52', '#8172b3'];
const capX = [108, 316, 518, 727, 938];

// panel layout: box = [left, top, right, bottom]
const panels = [
  {box:[46,3,200,152], x:xSmooth, yr:[-1220,12750], yt:yTicksPerf12k, dec:-1, yName:'Average Return', gap:28, xName:true, lab:labelsM, col:C4, mean:[a1_m2,a1_m3,a1_m4,a1_td3], sd:[a1_m2_sd,a1_m3_sd,a1_m4_sd,a1_td3_sd], leg:[90,103.7,2.7]},
  {box:[240,3,393,152], x:xBiasEarly, yr:[-3.58,3.59], yt:yTicksBias3, dec:0, yName:'Average Normalized Bias', gap:15, xName:true, lab:labelsM, col:C4, mean:[b1_m2,b1_m3,b1_m4,b1_td3], sd:[b1_m2_sd,b1_m3_sd,b1_m4_sd,b1_td3_sd], leg:[285,103.3,2.6]},
  {box:[458,3,614,152], x:xSmooth, yr:[-1215,12720], yt:yTicksPerf12k, dec:-1, yName:'Average Return', gap:28, xName:true, lab:labelsN, col:C4, mean:[c1_n2,c1_n5,c1_n10,c1_td3], sd:[c1_n2_sd,c1_n5_sd,c1_n10_sd,c1_td3_sd], leg:[506,103.7,2.7]},
  {box:[655,3,808,152], x:xBiasEarly, yr:[-3.98,3.93], yt:yTicksBias3, dec:0, yName:'Average Normalized Bias', gap:15, xName:true, lab:labelsN, col:C4, mean:[d1_n2,d1_n5,d1_n10,d1_td3], sd:[d1_n2_sd,d1_n5_sd,d1_n10_sd,d1_td3_sd], leg:[700,103.3,2.6]},
  {box:[875,3,1029,152], x:xSmooth, yr:[-1333,13168], yt:yTicksPerf12k, dec:-1, yName:'Average Return', gap:29, xName:true, lab:labelsA, col:C5, mean:[e1_a0,e1_a2,e1_a5,e1_a10,e1_td3], sd:[e1_a0_sd,e1_a2_sd,e1_a5_sd,e1_a10_sd,e1_td3_sd], leg:[878,5,3]},

  {box:[42,212,200,364], x:xNoisy, yr:[-479,4162], yt:yTicksPerf4k, dec:-1, yName:'Average Return', gap:26, xName:false, lab:labelsM, col:C4, mean:[a2_m2,a2_m3,a2_m4,a2_td3], sd:[a2_m2_sd,a2_m3_sd,a2_m4_sd,a2_td3_sd], leg:[89,316.7,2.5]},
  {box:[248,212,405,364], x:xBiasRow2, yr:[-0.946,1.877], yt:yTicksBias15, dec:1, yName:'Average Normalized Bias', gap:23, xName:false, lab:labelsM, col:C4, mean:[b2_m2,b2_m3,b2_m4,td3BiasRow2], sd:[b2_m2_sd,b2_m3_sd,b2_m4_sd,td3BiasRow2_sd], leg:[295,314,3.4]},
  {box:[458,212,614,364], x:xNoisy, yr:[-222,3989], yt:yTicksPerf3k, dec:-1, yName:'Average Return', gap:28, xName:false, lab:labelsN, col:C4, mean:[c2_n2,c2_n5,c2_n10,c2_td3], sd:[c2_n2_sd,c2_n5_sd,c2_n10_sd,c2_td3_sd], leg:[504,316.7,2.5]},
  {box:[663,212,818,364], x:xBiasRow2, yr:[-0.946,1.877], yt:yTicksBias15, dec:1, yName:'Average Normalized Bias', gap:24, xName:false, lab:labelsN, col:C4, mean:[d2_n2,d2_n5,d2_n10,td3BiasRow2], sd:[d2_n2_sd,d2_n5_sd,d2_n10_sd,td3BiasRow2_sd], leg:[709,314,3.4]},
  {box:[872,212,1029,364], x:xNoisy, yr:[-449,4192], yt:yTicksPerf4k, dec:-1, yName:'Average Return', gap:26, xName:false, lab:labelsA, col:C5, mean:[e2_a0,e2_a2,e2_a5,e2_a10,e2_td3], sd:[e2_a0_sd,e2_a2_sd,e2_a5_sd,e2_a10_sd,e2_td3_sd], leg:[875,215,2.7]},

  {box:[43,425,199,578], x:xNoisy, yr:[-331,5483], yt:yTicksPerf5k, dec:-1, yName:'Average Return', gap:26, xName:false, lab:labelsM, col:C4, mean:[a3_m2,a3_m3,a3_m4,a3_td3], sd:[a3_m2_sd,a3_m3_sd,a3_m4_sd,a3_td3_sd], leg:[89,528.3,3.2]},
  {box:[248,425,404,578], x:xBiasRow3, yr:[-1.093,1.157], yt:yTicksBias10, dec:1, yName:'Average Normalized Bias', gap:23, xName:false, lab:labelsM, col:C4, mean:[b3_m2,b3_m3,b3_m4,b3_td3], sd:[b3_m2_sd,b3_m3_sd,b3_m4_sd,b3_td3_sd], leg:[294,527.7,3]},
  {box:[455,425,612,578], x:xNoisy, yr:[-350,5600], yt:yTicksPerf5k, dec:-1, yName:'Average Return', gap:27, xName:false, lab:labelsN, col:C4, mean:[c3_n2,c3_n5,c3_n10,c3_td3], sd:[c3_n2_sd,c3_n5_sd,c3_n10_sd,c3_td3_sd], leg:[505,528,3]},
  {box:[662,425,818,578], x:xBiasRow3, yr:[-1.16,2.27], yt:yTicksBias20, dec:1, yName:'Average Normalized Bias', gap:27, xName:false, lab:labelsN, col:C4, mean:[d3_n2,d3_n5,d3_n10,d3_td3], sd:[d3_n2_sd,d3_n5_sd,d3_n10_sd,d3_td3_sd], leg:[712,526,3]},
  {box:[871,425,1029,578], x:xNoisy, yr:[-341,5455], yt:yTicksPerf5k, dec:-1, yName:'Average Return', gap:28, xName:false, lab:labelsA, col:C5, mean:[e3_a0,e3_a2,e3_a5,e3_a10,e3_td3], sd:[e3_a0_sd,e3_a2_sd,e3_a5_sd,e3_a10_sd,e3_td3_sd], leg:[878,436,4.5]}
];

function rgba(hex, a) {
  const n = parseInt(hex.slice(1), 16);
  return 'rgba(' + ((n >> 16) & 255) + ',' + ((n >> 8) & 255) + ',' + (n & 255) + ',' + a + ')';
}
function yFmt(dec) {
  return function (v) {
    const s = dec < 0 ? String(Math.round(v)) : v.toFixed(dec);
    return s.replace('-', '\u2212');
  };
}

const labelOf = {};
const option = {
  animation: false,
  backgroundColor: '#ffffff',
  grid: [], xAxis: [], yAxis: [], series: [], legend: [],
  graphic: captions.map((t, i) => ({
    type: 'text', x: capX[i], y: 627,
    style: {text: t, font: '22.5px ' + FF, fill: '#000', align: 'center', verticalAlign: 'middle'}
  }))
};

panels.forEach((p, i) => {
  const [l, t, r, b] = p.box;
  option.grid.push({left: l, top: t, width: r - l, height: b - t, show: true, backgroundColor: '#ffffff',
    borderColor: GRIDC, borderWidth: 1.2, containLabel: false, outerBoundsMode: 'none'});
  option.xAxis.push({
    type: 'value', gridIndex: i, min: -0.05, max: 1.05,
    axisLine: {show: false}, axisTick: {show: false, customValues: xTicks},
    axisLabel: {customValues: xTicks, formatter: v => v.toFixed(2), fontFamily: FF, fontSize: 8.5, fontWeight: 'bold', color: TXT, margin: 3},
    splitLine: {show: true, lineStyle: {color: GRIDC, width: 1.2}},
    name: p.xName ? 'Time Steps (1e6)' : '', nameLocation: 'middle', nameGap: 12,
    nameTextStyle: {fontFamily: FF, fontSize: 9.5, fontWeight: 'bold', color: TXT}
  });
  option.yAxis.push({
    type: 'value', gridIndex: i, min: p.yr[0], max: p.yr[1],
    axisLine: {show: false}, axisTick: {show: false, customValues: p.yt},
    axisLabel: {customValues: p.yt, formatter: yFmt(p.dec), fontFamily: FF, fontSize: 8.5, fontWeight: 'bold', color: TXT, margin: 5},
    splitLine: {show: true, lineStyle: {color: GRIDC, width: 1.2}},
    name: p.yName, nameLocation: 'middle', nameRotate: 90, nameGap: p.gap,
    nameTextStyle: {fontFamily: FF, fontSize: 9.5, fontWeight: 'bold', color: TXT}
  });
  const uids = [];
  p.mean.forEach((m, j) => {
    const sd = p.sd[j];
    const xs = p.x;
    const color = p.col[j];
    const uid = 'p' + i + '_' + j;
    uids.push(uid);
    labelOf[uid] = p.lab[j];
    option.series.push({
      type: 'custom', xAxisIndex: i, yAxisIndex: i, silent: true, z: 1, clip: true,
      data: [[xs[0], m[0]]],
      renderItem: function (params, api) {
        const pts = [];
        for (let k = 0; k < xs.length; k++) pts.push(api.coord([xs[k], m[k] + sd[k]]));
        for (let k = xs.length - 1; k >= 0; k--) pts.push(api.coord([xs[k], m[k] - sd[k]]));
        return {type: 'polygon', shape: {points: pts}, style: {fill: rgba(color, 0.2), stroke: 'none'}};
      }
    });
    option.series.push({
      type: 'line', name: uid, xAxisIndex: i, yAxisIndex: i, silent: true, z: 3,
      data: xs.map((x, k) => [x, m[k]]),
      symbol: 'none', showSymbol: false, clip: true,
      lineStyle: {color: color, width: 1.5}, itemStyle: {color: color}
    });
  });
  option.legend.push({
    data: uids, orient: 'vertical', left: p.leg[0], top: p.leg[1], itemGap: p.leg[2],
    icon: 'rect', itemWidth: 20, itemHeight: 2, padding: 0, selectedMode: false,
    formatter: name => labelOf[name].replace('α', '{i|α}'),
    textStyle: {fontFamily: FF, fontSize: 8.5, fontWeight: 'bold', color: TXT, lineHeight: 10,
      rich: {i: {fontFamily: FF, fontSize: 8.5, fontWeight: 'bold', fontStyle: 'italic', color: TXT, lineHeight: 10}}}
  });
});

const chart = echarts.init(document.getElementById('chart'), null, {renderer: 'canvas', width: 1028, height: 640});
chart.setOption(option);
</script></body></html>
